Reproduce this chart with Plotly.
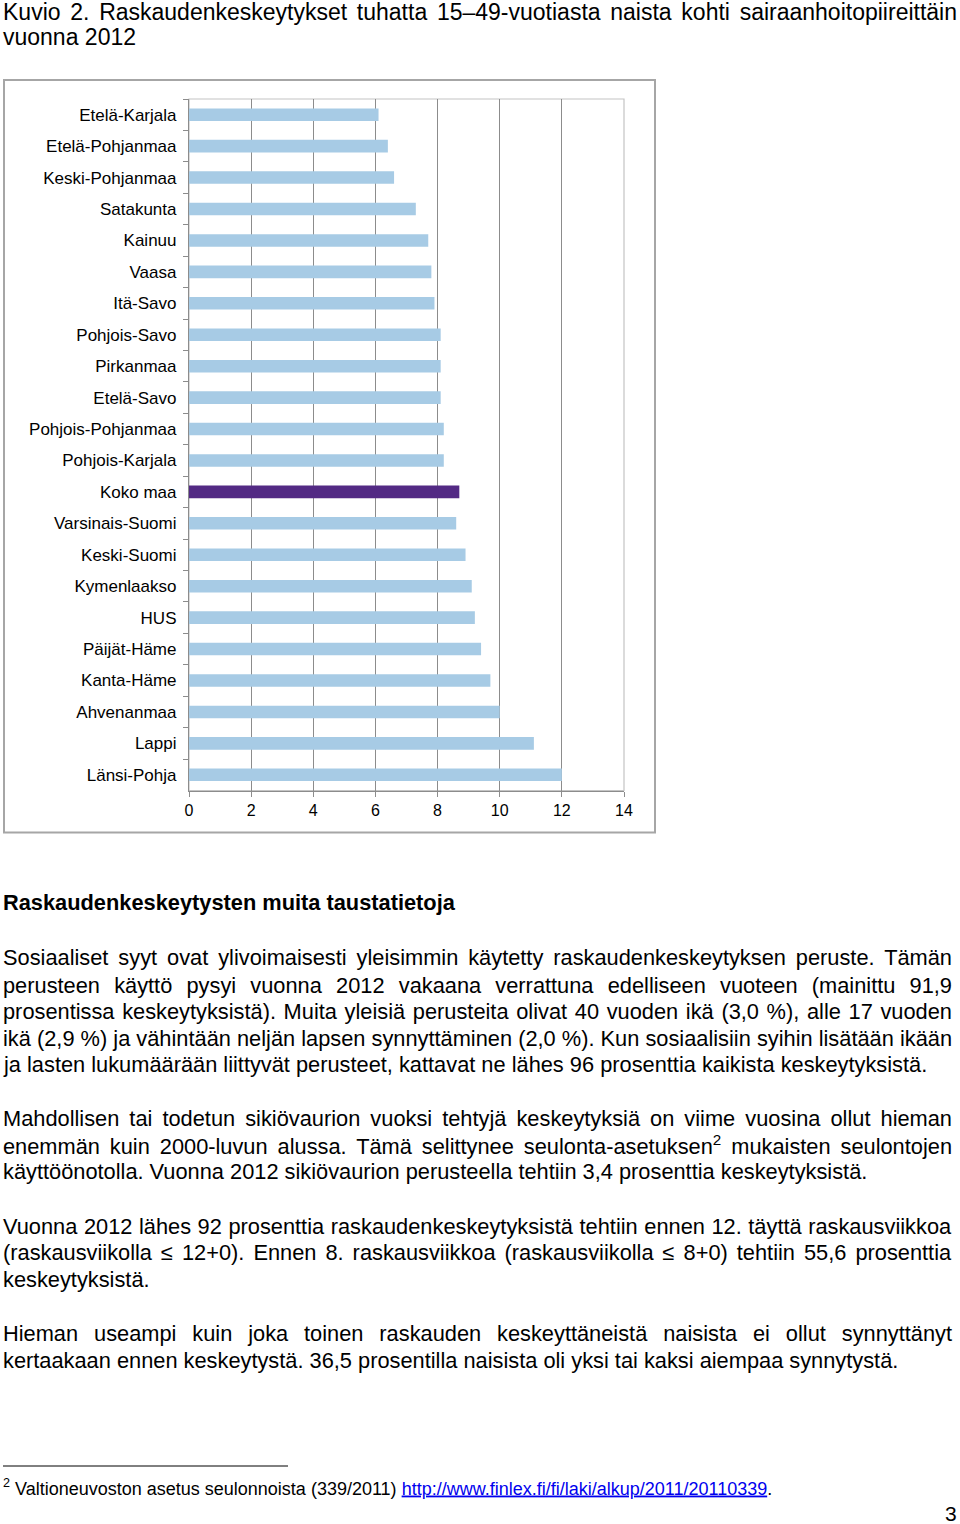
import json
import plotly.graph_objects as go

regions = ["Etelä-Karjala", "Etelä-Pohjanmaa", "Keski-Pohjanmaa", "Satakunta", "Kainuu",
           "Vaasa", "Itä-Savo", "Pohjois-Savo", "Pirkanmaa", "Etelä-Savo",
           "Pohjois-Pohjanmaa", "Pohjois-Karjala", "Koko maa", "Varsinais-Suomi",
           "Keski-Suomi", "Kymenlaakso", "HUS", "Päijät-Häme", "Kanta-Häme",
           "Ahvenanmaa", "Lappi", "Länsi-Pohja"]
values = [6.1, 6.4, 6.6, 7.3, 7.7, 7.8, 7.9, 8.1, 8.1, 8.1, 8.2, 8.2, 8.7, 8.6,
          8.9, 9.1, 9.2, 9.4, 9.7, 10.0, 11.1, 12.0]
highlight = "Koko maa"
x_ticks = [0, 2, 4, 6, 8, 10, 12, 14]

title_lines = ["Kuvio 2. Raskaudenkeskeytykset tuhatta 15–49-vuotiasta naista kohti sairaanhoitopiireittäin",
               "vuonna 2012"]
heading = "Raskaudenkeskeytysten muita taustatietoja"
paragraphs = [
    ["Sosiaaliset syyt ovat ylivoimaisesti yleisimmin käytetty raskaudenkeskeytyksen peruste. Tämän",
     "perusteen käyttö pysyi vuonna 2012 vakaana verrattuna edelliseen vuoteen (mainittu 91,9",
     "prosentissa keskeytyksistä). Muita yleisiä perusteita olivat 40 vuoden ikä (3,0 %), alle 17 vuoden",
     "ikä (2,9 %) ja vähintään neljän lapsen synnyttäminen (2,0 %). Kun sosiaalisiin syihin lisätään ikään",
     "ja lasten lukumäärään liittyvät perusteet, kattavat ne lähes 96 prosenttia kaikista keskeytyksistä."],
    ["Mahdollisen tai todetun sikiövaurion vuoksi tehtyjä keskeytyksiä on viime vuosina ollut hieman",
     "enemmän kuin 2000-luvun alussa. Tämä selittynee seulonta-asetuksen<sup>2</sup> mukaisten seulontojen",
     "käyttöönotolla. Vuonna 2012 sikiövaurion perusteella tehtiin 3,4 prosenttia keskeytyksistä."],
    ["Vuonna 2012 lähes 92 prosenttia raskaudenkeskeytyksistä tehtiin ennen 12. täyttä raskausviikkoa",
     "(raskausviikolla ≤ 12+0). Ennen 8. raskausviikkoa (raskausviikolla ≤ 8+0) tehtiin 55,6 prosenttia",
     "keskeytyksistä."],
    ["Hieman useampi kuin joka toinen raskauden keskeyttäneistä naisista ei ollut synnyttänyt",
     "kertaakaan ennen keskeytystä. 36,5 prosentilla naisista oli yksi tai kaksi aiempaa synnytystä."],
]
para_y = [[958, 985, 1011, 1038, 1064], [1118, 1145, 1171], [1226, 1252, 1279], [1333, 1360]]
footnote_text = "<sup>2</sup> Valtioneuvoston asetus seulonnoista (339/2011) "
footnote_link = "http://www.finlex.fi/fi/laki/alkup/2011/20110339"
page_number = "3"

W, H = 960, 1524
SANS = "Liberation Sans, Arial, sans-serif"
TX = 1  # left position of text annotations (px)

def px(x):
    return x / W

def py(y):
    return 1 - y / H

colors = ["#532a84" if r == highlight else "#a7cbe5" for r in regions]

fig = go.Figure(go.Bar(
    x=values, y=regions, orientation="h",
    marker=dict(color=colors, line=dict(width=0)),
    width=0.4, hoverinfo="x+y",
))

ann = []
justify = {}  # annotation index -> target right edge (px)
for i, t in enumerate(title_lines):
    if i == 0:
        justify[len(ann)] = 957
    ann.append(dict(text=t, x=px(TX), y=py([12, 37][i]), xanchor="left", yanchor="middle",
                    font=dict(family=SANS, size=23, color="#000")))
ann.append(dict(text="<b>" + heading + "</b>", x=px(TX), y=py(903), xanchor="left", yanchor="middle",
                font=dict(family=SANS, size=21.8, color="#000")))
for lines, ys in zip(paragraphs, para_y):
    for k, (t, yy) in enumerate(zip(lines, ys)):
        if k < len(lines) - 1:
            justify[len(ann)] = 952
        ann.append(dict(text=t, x=px(TX), y=py(yy), xanchor="left", yanchor="middle",
                        font=dict(family=SANS, size=21.8, color="#000")))
ann.append(dict(text=footnote_text + "<span style='color:#0000ee;text-decoration:underline'>" + footnote_link
                + "</span>.", x=px(TX), y=py(1487), xanchor="left", yanchor="middle",
                font=dict(family=SANS, size=18, color="#000")))
ann.append(dict(text=page_number, x=px(959), y=py(1513), xanchor="right", yanchor="middle",
                font=dict(family=SANS, size=21, color="#000")))
for a in ann:
    a.update(xref="paper", yref="paper", showarrow=False, align="left")

shapes = [
    # chart frame
    dict(type="rect", xref="paper", yref="paper", x0=px(4), x1=px(655), y0=py(832.5), y1=py(80),
         line=dict(color="#a6a6a6", width=2)),
    # plot area border (top/right)
    dict(type="rect", xref="x domain", yref="y domain", x0=0, x1=1, y0=0, y1=1,
         line=dict(color="#c4c4c4", width=1.2), layer="below"),
    # footnote separator
    dict(type="line", xref="paper", yref="paper", x0=px(3), x1=px(288), y0=py(1466), y1=py(1466),
         line=dict(color="#000", width=1)),
]

fig.update_layout(
    width=W, height=H, margin=dict(l=0, r=0, t=0, b=0, autoexpand=False),
    paper_bgcolor="white", plot_bgcolor="white", showlegend=False,
    annotations=ann, shapes=shapes, bargap=0.6,
    xaxis=dict(domain=[px(189), px(624)], range=[0, 14], tickvals=x_ticks, automargin=False,
               showgrid=True, gridcolor="#8c8c8c", gridwidth=1.2, zeroline=False,
               showline=True, linecolor="#8c8c8c", linewidth=1.2,
               ticks="outside", ticklen=5, tickcolor="#8c8c8c",
               tickfont=dict(family=SANS, size=16, color="#000"), fixedrange=True),
    yaxis=dict(domain=[py(790.5), py(99)], autorange="reversed", type="category", automargin=False,
               showgrid=False, showline=True, linecolor="#8c8c8c", linewidth=1.2,
               ticks="outside", ticklen=5, tickcolor="#8c8c8c", tickson="boundaries",
               ticklabelstandoff=8,
               tickfont=dict(family=SANS, size=17, color="#000"), fixedrange=True),
)

post = """
document.body.style.margin='0';
document.body.style.overflow='hidden';
var gd = document.getElementById('{plot_id}');
var J = %s;
Object.keys(J).forEach(function(i){
  var g = gd.querySelector('g.annotation[data-index="'+i+'"]');
  if(!g) return;
  var t = g.querySelector('text.annotation-text');
  if(!t) return;
  var n = (t.textContent.match(/ /g)||[]).length;
  if(!n) return;
  var r = t.getBoundingClientRect().right;
  t.style.wordSpacing = ((J[i]-r)/n) + 'px';
});
""" % json.dumps({str(k): v for k, v in justify.items()})

fig.write_html("out.html", config={"displayModeBar": False}, post_script=post)
